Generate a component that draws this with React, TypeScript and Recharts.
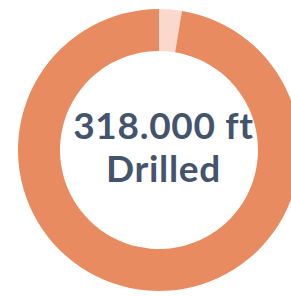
import { PieChart, Pie, Cell } from 'recharts'

const segments = ['Remaining', 'Drilled']
const footage = [8500, 318000]
const colors = ['#FAD8CB', '#E98B60']
const centerLines = ['318.000 ft', 'Drilled']

const data = segments.map((name, i) => ({ name, value: footage[i] }))

const textStyle = {
  position: 'absolute' as const,
  left: 0,
  width: 327,
  textAlign: 'center' as const,
  fontFamily: 'Lato, sans-serif',
  fontWeight: 700,
  fontSize: 37,
  lineHeight: '44px',
  letterSpacing: 0.7,
  color: '#44546C',
  whiteSpace: 'nowrap' as const,
}

export default function App() {
  return (
    <div style={{ position: 'fixed', left: 0, top: 0, width: 291, height: 297, background: '#fff', overflow: 'hidden' }}>
      <PieChart width={291} height={297} margin={{ top: 0, right: 0, bottom: 0, left: 0 }}>
        <Pie
          data={data}
          dataKey="value"
          cx={159}
          cy={150}
          innerRadius={99}
          outerRadius={141}
          startAngle={90}
          endAngle={-270}
          stroke="none"
          isAnimationActive={false}
        >
          {data.map((d, i) => <Cell key={d.name} fill={colors[i]} />)}
        </Pie>
      </PieChart>
      <div style={{ ...textStyle, top: 103 }}>{centerLines[0]}</div>
      <div style={{ ...textStyle, top: 146 }}>{centerLines[1]}</div>
    </div>
  )
}
